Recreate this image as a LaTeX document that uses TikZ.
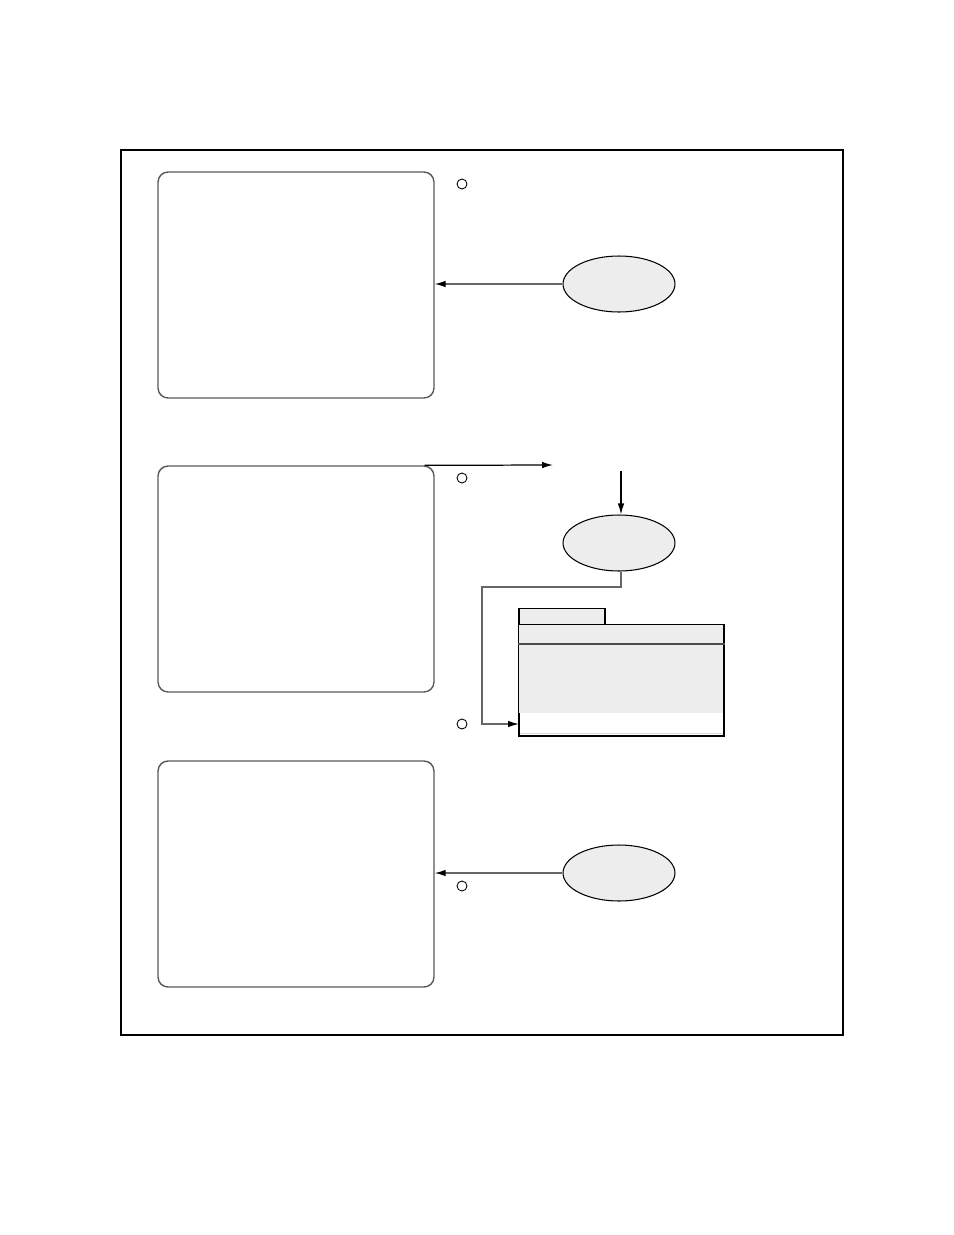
\documentclass[tikz,border=0pt]{standalone}
\usetikzlibrary{arrows.meta,shapes.geometric,positioning,calc}

\begin{document}
\begin{tikzpicture}[
  x=0.02cm, y=-0.02cm,
  > = {Latex[length=2.2mm,width=1.3mm]},
  screen/.style = {draw=black!65,line width=0.8pt,rounded corners=0.2cm,minimum width=5.52cm,minimum height=4.52cm},
  hole/.style = {draw,circle,inner sep=0pt,minimum size=0.2cm,line width=0.5pt},
  actor/.style = {draw,ellipse,fill=black!7,line width=0.6pt,minimum width=2.24cm,minimum height=1.12cm},
  wire/.style = {draw=black!60,line width=0.7pt,-{Latex[black,length=2.2mm,width=1.3mm]}}
  ]
	\useasboundingbox (0,0) rectangle (954,1235);
	\draw[line width=1.1pt] (121,150) rectangle (843,1035);

	% screens on the left
	\node[screen] (scr1) at (296,285) {};
	\node[screen] (scr2) at (296,579) {};
	\node[screen] (scr3) at (296,874) {};

	\node[hole] (h1) at (462,184) {};
	\node[hole] (h2) at (462,478) {};
	\node[hole] (h3) at (462,724) {};
	\node[hole] (h4) at (462,886) {};

	% actors
	\node[actor] (act1) at (619,284) {};
	\node[actor] (act2) at (619,543) {};
	\node[actor] (act3) at (619,873) {};

	% folder
	\node[draw,fill=black!7,line width=0.7pt,minimum width=1.72cm,minimum height=0.34cm,inner sep=0pt] (tab) at (562,617) {};
	\node[draw,fill=white,line width=0.8pt,minimum width=4.1cm,minimum height=2.22cm,inner sep=0pt] (fld) at (621.5,680.5) {};
	\fill[black!7] ([shift={(0.02cm,-0.02cm)}]fld.north west) rectangle (723,713);
	\draw[black!70,line width=0.7pt] (fld.north west |- 0,644) -- (fld.north east |- 0,644);
	\draw[black!15] (520,733) -- (723,733);

	\coordinate (out) at (553,465);
	\coordinate (in) at (621,471);
	\coordinate (turn) at (482,587);
	\coordinate (entry) at (519,724);

  	\draw[wire] (act1) -- (scr1.east |- act1);
	\draw[wire] (act3) -- (scr3.east |- act3);
	\draw[->,line width=0.7pt] ([xshift=-0.2cm]scr2.north east) -- (out);
	\draw[->,line width=0.7pt] (in) -- (in |- act2.north);
	\draw[wire] (in |- act2.south) |- (turn) |- (entry);

\end{tikzpicture}
\end{document}
